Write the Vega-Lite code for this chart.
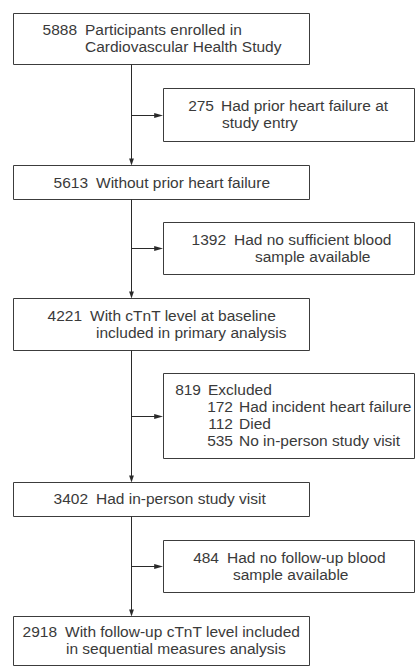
{
  "$schema": "https://vega.github.io/schema/vega-lite/v6.json",
  "width": 415,
  "height": 666,
  "autosize": {"type": "none"},
  "padding": 0,
  "config": {"view": {"stroke": null}},
  "datasets": {
    "boxes": [
      {"x": 13.5, "x2": 309.5, "y": 13.5, "y2": 64.5},
      {"x": 163.5, "x2": 414.5, "y": 88.5, "y2": 141.5},
      {"x": 13.5, "x2": 309.5, "y": 165.5, "y2": 199.5},
      {"x": 163.5, "x2": 414.5, "y": 222.5, "y2": 274.5},
      {"x": 13.5, "x2": 309.5, "y": 298.5, "y2": 350.5},
      {"x": 163.5, "x2": 414.5, "y": 373.5, "y2": 458.5},
      {"x": 13.5, "x2": 309.5, "y": 482.5, "y2": 516.5},
      {"x": 163.5, "x2": 414.5, "y": 540.5, "y2": 592.5},
      {"x": 13.5, "x2": 309.5, "y": 616.5, "y2": 665.5}
    ],
    "lines": [
      {"x": 131.5, "x2": 131.5, "y": 64.5, "y2": 160},
      {"x": 131.5, "x2": 131.5, "y": 199.5, "y2": 293},
      {"x": 131.5, "x2": 131.5, "y": 350.5, "y2": 477},
      {"x": 131.5, "x2": 131.5, "y": 516.5, "y2": 611},
      {"x": 131.5, "x2": 156, "y": 115.5, "y2": 115.5},
      {"x": 131.5, "x2": 156, "y": 248.5, "y2": 248.5},
      {"x": 131.5, "x2": 156, "y": 416.5, "y2": 416.5},
      {"x": 131.5, "x2": 156, "y": 566.5, "y2": 566.5}
    ],
    "arrows": [
      {"x": 131.5, "y": 165.5, "dir": "down"},
      {"x": 131.5, "y": 298.5, "dir": "down"},
      {"x": 131.5, "y": 482.5, "dir": "down"},
      {"x": 131.5, "y": 616.5, "dir": "down"},
      {"x": 163, "y": 115.5, "dir": "right"},
      {"x": 163, "y": 248.5, "dir": "right"},
      {"x": 163, "y": 416.5, "dir": "right"},
      {"x": 163, "y": 566.5, "dir": "right"}
    ],
    "numbers": [
      {"x": 77, "y": 34.5, "t": "5888"},
      {"x": 214, "y": 111, "t": "275"},
      {"x": 88, "y": 187.5, "t": "5613"},
      {"x": 226, "y": 244.5, "t": "1392"},
      {"x": 82, "y": 320.5, "t": "4221"},
      {"x": 201, "y": 395, "t": "819"},
      {"x": 233, "y": 412, "t": "172"},
      {"x": 233, "y": 429, "t": "112"},
      {"x": 233, "y": 446, "t": "535"},
      {"x": 88, "y": 504, "t": "3402"},
      {"x": 219, "y": 562.5, "t": "484"},
      {"x": 57, "y": 637, "t": "2918"}
    ],
    "labels": [
      {"x": 85, "y": 34.5, "t": "Participants enrolled in"},
      {"x": 85, "y": 51.5, "t": "Cardiovascular Health Study"},
      {"x": 221, "y": 111, "t": "Had prior heart failure at"},
      {"x": 222, "y": 128, "t": "study entry"},
      {"x": 96, "y": 187.5, "t": "Without prior heart failure"},
      {"x": 234, "y": 244.5, "t": "Had no sufficient blood"},
      {"x": 255, "y": 261.5, "t": "sample available"},
      {"x": 90, "y": 320.5, "t": "With cTnT level at baseline"},
      {"x": 96, "y": 337.5, "t": "included in primary analysis"},
      {"x": 208, "y": 395, "t": "Excluded"},
      {"x": 239, "y": 412, "t": "Had incident heart failure"},
      {"x": 239, "y": 429, "t": "Died"},
      {"x": 239, "y": 446, "t": "No in-person study visit"},
      {"x": 96, "y": 504, "t": "Had in-person study visit"},
      {"x": 227, "y": 562.5, "t": "Had no follow-up blood"},
      {"x": 233, "y": 579.5, "t": "sample available"},
      {"x": 65, "y": 637, "t": "With follow-up cTnT level included"},
      {"x": 66, "y": 654, "t": "in sequential measures analysis"}
    ]
  },
  "encoding": {
    "x": {"field": "x", "type": "quantitative", "scale": {"domain": [0, 415], "nice": false, "zero": false}, "axis": null},
    "y": {"field": "y", "type": "quantitative", "scale": {"domain": [0, 666], "nice": false, "zero": false, "reverse": true}, "axis": null}
  },
  "layer": [
    {
      "data": {"name": "boxes"},
      "mark": {"type": "rect", "fill": "white", "stroke": "#3c3c3c", "strokeWidth": 1},
      "encoding": {"x2": {"field": "x2"}, "y2": {"field": "y2"}}
    },
    {
      "data": {"name": "lines"},
      "mark": {"type": "rule", "stroke": "#2a2a2a", "strokeWidth": 1},
      "encoding": {"x2": {"field": "x2"}, "y2": {"field": "y2"}}
    },
    {
      "data": {"name": "arrows"},
      "transform": [{"filter": "datum.dir === 'down'"}],
      "mark": {"type": "point", "filled": true, "color": "#2a2a2a", "opacity": 1, "size": 64, "shape": "M-0.6,-1.75L0.6,-1.75L0,0Z"}
    },
    {
      "data": {"name": "arrows"},
      "transform": [{"filter": "datum.dir === 'right'"}],
      "mark": {"type": "point", "filled": true, "color": "#2a2a2a", "opacity": 1, "size": 64, "shape": "M-2.2,-0.6L-2.2,0.6L0,0Z"}
    },
    {
      "data": {"name": "numbers"},
      "mark": {"type": "text", "align": "right", "baseline": "alphabetic", "font": "Liberation Sans", "fontSize": 15.5, "color": "#3a3a3a"},
      "encoding": {"text": {"field": "t"}}
    },
    {
      "data": {"name": "labels"},
      "mark": {"type": "text", "align": "left", "baseline": "alphabetic", "font": "Liberation Sans", "fontSize": 15.5, "color": "#3a3a3a"},
      "encoding": {"text": {"field": "t"}}
    }
  ]
}
